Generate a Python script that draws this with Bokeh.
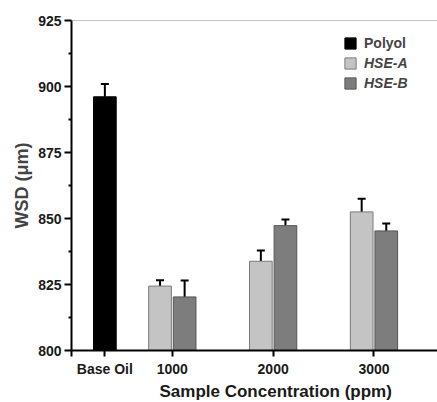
from bokeh.plotting import figure
from bokeh.models import (ColumnDataSource, Range1d, FixedTicker, Whisker, TeeHead,
                          Legend, LegendItem, Title, Span)
from bokeh.embed import file_html
from bokeh.resources import INLINE

# ---- data ----
categories = ["Base Oil", "1000", "2000", "3000"]
polyol = [896.1]
polyol_err = [4.8]
hse_a = [824.4, 833.8, 852.5]
hse_a_err = [2.2, 4.1, 5.0]
hse_b = [820.3, 847.3, 845.3]
hse_b_err = [6.2, 2.3, 2.8]

# ---- layout constants ----
cat_pos = [0.331, 1.0, 2.0, 3.0]
bw = 0.225
off = 0.122
FONT = "Liberation Sans"

p = figure(width=437, height=402, frame_width=366, frame_height=330,
           output_backend="svg", toolbar_location=None,
           x_range=Range1d(0, 3.63), y_range=Range1d(800, 925),
           min_border_left=71, min_border_right=0, min_border_top=20,
           min_border_bottom=52)
p.outline_line_color = None
p.grid.visible = False
p.background_fill_color = "white"
p.border_fill_color = "white"

src_p = ColumnDataSource(dict(x=[cat_pos[0]], top=polyol,
                              up=[v + e for v, e in zip(polyol, polyol_err)]))
src_a = ColumnDataSource(dict(x=[c - off for c in cat_pos[1:]], top=hse_a,
                              up=[v + e for v, e in zip(hse_a, hse_a_err)]))
src_b = ColumnDataSource(dict(x=[c + off for c in cat_pos[1:]], top=hse_b,
                              up=[v + e for v, e in zip(hse_b, hse_b_err)]))

r_p = p.vbar(x="x", top="top", bottom=800, width=bw, source=src_p,
             fill_color="#000000", line_color="#000000", line_width=1)
r_a = p.vbar(x="x", top="top", bottom=800, width=bw, source=src_a,
             fill_color="#c4c4c4", line_color="#7a7a7a", line_width=1)
r_b = p.vbar(x="x", top="top", bottom=800, width=bw, source=src_b,
             fill_color="#7d7d7d", line_color="#555555", line_width=1)

for s in (src_p, src_a, src_b):
    w = Whisker(base="x", lower="top", upper="up", source=s, dimension="height",
                line_color="black", line_width=2,
                upper_head=TeeHead(size=8, line_color="black", line_width=2),
                lower_head=None)
    p.add_layout(w)

# top border line
p.add_layout(Span(location=925, dimension="width", line_color="#888888", line_width=1))

# axes
yax = p.yaxis[0]
yax.ticker = FixedTicker(ticks=[800, 825, 850, 875, 900, 925],
                         minor_ticks=[812.5, 837.5, 862.5, 887.5, 912.5])
yax.axis_label = "WSD (\u03bcm)"
yax.axis_label_text_font = FONT
yax.axis_label_text_font_style = "bold"
yax.axis_label_text_font_size = "18px"
yax.axis_label_standoff = 3
yax.major_label_text_font = FONT
yax.major_label_text_font_style = "bold"
yax.major_label_text_font_size = "14px"
yax.major_label_text_color = "#1a1a1a"
yax.major_label_standoff = 3
yax.axis_line_width = 2
yax.axis_line_color = "black"
yax.major_tick_line_width = 2
yax.major_tick_out = 7
yax.major_tick_in = 0
yax.minor_tick_line_width = 2
yax.minor_tick_out = 3
yax.minor_tick_in = 0

xax = p.xaxis[0]
xax.ticker = FixedTicker(ticks=cat_pos, minor_ticks=[0.0])
xax.major_label_overrides = {cat_pos[i]: categories[i] for i in range(len(categories))}
xax.major_label_text_font = FONT
xax.major_label_text_font_style = "bold"
xax.major_label_text_font_size = "14px"
xax.major_label_text_color = "#1a1a1a"
xax.major_label_standoff = 4
xax.axis_line_width = 2
xax.axis_line_color = "black"
xax.major_tick_line_width = 2
xax.major_tick_out = 6
xax.major_tick_in = 0
xax.minor_tick_line_width = 2
xax.minor_tick_out = 6
xax.minor_tick_in = 0

# x axis title (offset to the right like the reference)
p.add_layout(Title(text="Sample Concentration (ppm)", align="left", offset=88,
                   text_font=FONT, text_font_style="bold", text_font_size="17px",
                   text_color="#1a1a1a", standoff=0), "below")

# legends (one per item so each can have its own font style)
def add_leg(label, rend, style, ypos):
    leg = Legend(items=[LegendItem(label=label, renderers=[rend])],
                 location=(272, ypos), orientation="vertical",
                 glyph_width=14, glyph_height=14, label_height=14,
                 label_text_font=FONT, label_text_font_style=style,
                 label_text_font_size="14px", label_standoff=7,
                 padding=0, margin=0, spacing=0,
                 border_line_color=None, background_fill_alpha=0)
    p.add_layout(leg)

add_leg("Polyol", r_p, "bold", 299)
add_leg("HSE-A", r_a, "bold italic", 279)
add_leg("HSE-B", r_b, "bold italic", 259)

open("out.html", "w").write(file_html(p, INLINE))
